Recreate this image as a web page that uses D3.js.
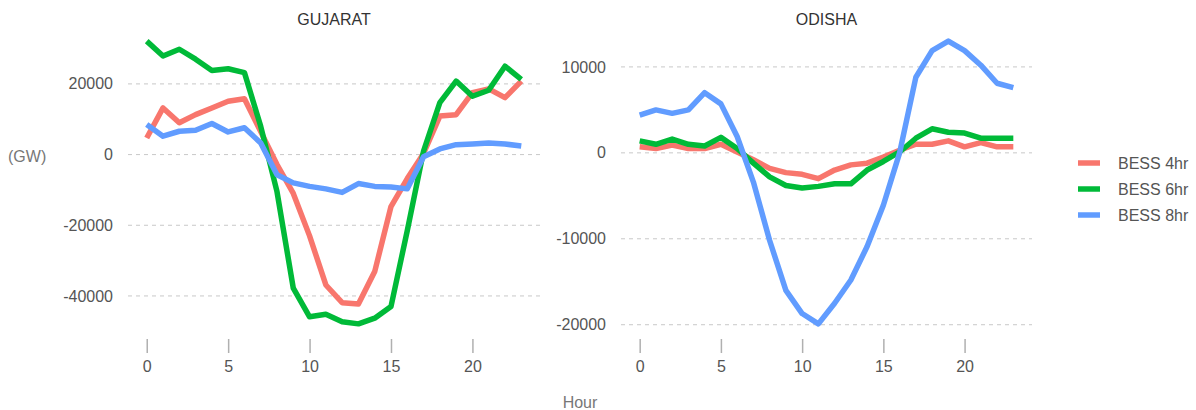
<!DOCTYPE html>
<html>
<head>
<meta charset="utf-8">
<script src="https://cdn.jsdelivr.net/npm/d3@7"></script>
<style>
  body { margin: 0; background: #fff; }
  text { font-family: "Liberation Sans", Arial, sans-serif; }
</style>
</head>
<body>
<svg id="chart" width="1196" height="410"></svg>
<script>
// Hours 0..23
var hours = d3.range(0, 24);
var seriesNames = ["BESS 4hr", "BESS 6hr", "BESS 8hr"];
var seriesColors = ["#F8766D", "#00BA38", "#619CFF"];

// GUJARAT
var gujarat4hr = [4700, 13200, 9000, 11300, 13200, 15100, 15800, 6500, -2800, -11000, -23000, -36900,
                  -41900, -42300, -33100, -14700, -6800, 300, 10900, 11300, 17500, 18600, 16100, 20800];
var gujarat6hr = [32100, 27900, 29800, 27000, 23800, 24300, 23200, 8000, -10500, -37800, -45900, -45200,
                  -47300, -47900, -46300, -43000, -21500, 1000, 14700, 20800, 16500, 18200, 25000, 21300];
var gujarat8hr = [8500, 5200, 6600, 6900, 8800, 6400, 7600, 3300, -5700, -8000, -9000, -9700,
                  -10700, -8200, -9000, -9200, -9700, -600, 1600, 2800, 3000, 3300, 3000, 2400];

// ODISHA
var odisha4hr = [700, 500, 900, 500, 500, 1000, 100, -800, -1800, -2300, -2500, -3000,
                 -2000, -1400, -1200, -500, 300, 1000, 1000, 1400, 700, 1200, 700, 700];
var odisha6hr = [1400, 1000, 1600, 1000, 800, 1800, 500, -1200, -2800, -3800, -4100, -3900,
                 -3600, -3600, -2000, -1000, 100, 1700, 2800, 2400, 2300, 1700, 1700, 1700];
var odisha8hr = [4400, 5000, 4600, 5000, 7000, 5700, 1900, -3400, -10200, -16000, -18700, -19900,
                 -17500, -14800, -10900, -6100, 0, 8800, 11900, 13000, 11900, 10200, 8100, 7600];

var xTicks = [0, 5, 10, 15, 20];
var gujaratYTicks = [20000, 0, -20000, -40000];
var odishaYTicks = [10000, 0, -10000, -20000];

var svg = d3.select('#chart');

var panels = [
    {title: "GUJARAT", series: [gujarat4hr, gujarat6hr, gujarat8hr], yTicks: gujaratYTicks, left: 128, right: 540},
    {title: "ODISHA", series: [odisha4hr, odisha6hr, odisha8hr], yTicks: odishaYTicks, left: 621, right: 1032}
];
var panelTop = 27, panelBottom = 338;

panels.forEach(function(p) {
    var g = svg.append('g');

    // ggplot-like 5% expansion on both axes
    var xScale = d3.scaleLinear()
        .domain([0 - 23 * 0.05, 23 + 23 * 0.05])
        .range([p.left, p.right]);

    var all = [].concat.apply([], p.series);
    var ext = d3.extent(all);
    var pad = (ext[1] - ext[0]) * 0.05;
    var yScale = d3.scaleLinear()
        .domain([ext[0] - pad, ext[1] + pad])
        .range([panelBottom, panelTop]);

    // dashed horizontal gridlines
    g.selectAll('.grid')
        .data(p.yTicks).enter()
        .append('line')
        .attr('x1', p.left).attr('x2', p.right)
        .attr('y1', d => yScale(d)).attr('y2', d => yScale(d))
        .attr('stroke', '#c8c8c8')
        .attr('stroke-width', 1)
        .attr('stroke-dasharray', '4,4');

    // y labels
    g.selectAll('.ylab')
        .data(p.yTicks).enter()
        .append('text')
        .attr('x', p.left - 15)
        .attr('y', d => yScale(d))
        .attr('dy', '0.35em')
        .attr('text-anchor', 'end')
        .style('font-size', '16px')
        .style('fill', '#555')
        .text(d => d);

    // x axis: ticks below the panel, no domain line
    var xAxis = g.append('g')
        .attr('transform', 'translate(0,' + (panelBottom + 1) + ')')
        .call(d3.axisBottom(xScale).tickValues(xTicks).tickSize(14).tickPadding(8));
    xAxis.select('.domain').remove();
    xAxis.selectAll('.tick line').attr('stroke', '#b0b0b0').attr('stroke-width', 1.5);
    xAxis.selectAll('.tick text')
        .style('font-size', '16px')
        .style('fill', '#555')
        .style('font-family', '"Liberation Sans", Arial, sans-serif');

    // title
    g.append('text')
        .attr('x', (p.left + p.right) / 2)
        .attr('y', 25)
        .attr('text-anchor', 'middle')
        .style('font-size', '16px')
        .style('fill', '#333')
        .text(p.title);

    var line = d3.line()
        .x((d, i) => xScale(hours[i]))
        .y(d => yScale(d));

    p.series.forEach(function(s, k) {
        g.append('path')
            .datum(s)
            .attr('d', line)
            .attr('fill', 'none')
            .attr('stroke', seriesColors[k])
            .attr('stroke-width', 5.5)
            .attr('stroke-linejoin', 'round');
    });
});

// axis titles
svg.append('text')
    .attr('x', 8).attr('y', 156).attr('dy', '0.35em')
    .style('font-size', '16px').style('fill', '#777')
    .text('(GW)');

svg.append('text')
    .attr('x', 580).attr('y', 402).attr('dy', '0.35em')
    .attr('text-anchor', 'middle')
    .style('font-size', '16px').style('fill', '#777')
    .text('Hour');

// legend
var legend = svg.append('g').attr('transform', 'translate(1078,163)');
seriesNames.forEach(function(name, i) {
    legend.append('line')
        .attr('x1', 0).attr('x2', 22)
        .attr('y1', i * 26).attr('y2', i * 26)
        .attr('stroke', seriesColors[i])
        .attr('stroke-width', 5.5);
    legend.append('text')
        .attr('x', 40).attr('y', i * 26).attr('dy', '0.35em')
        .style('font-size', '16px')
        .style('fill', '#555')
        .text(name);
});
</script>
</body>
</html>
